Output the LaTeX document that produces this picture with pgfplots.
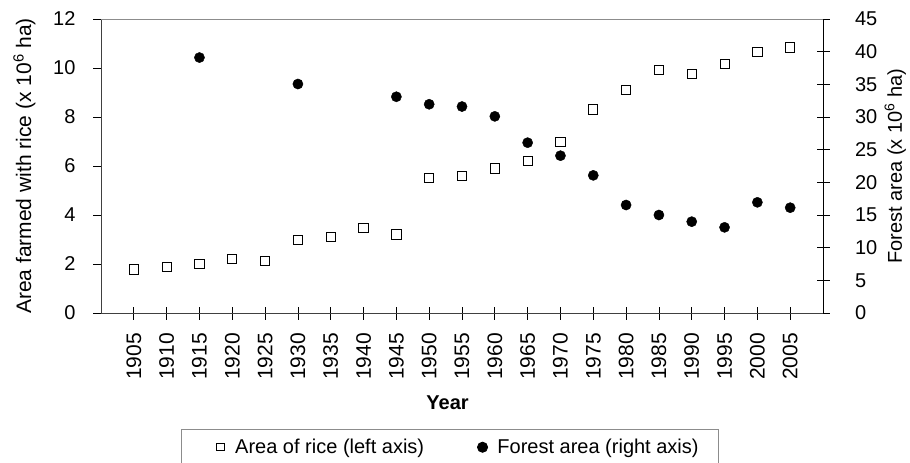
\documentclass[border=0pt]{standalone}
\usepackage{fontspec}
\setmainfont{Liberation Sans}
\usepackage{pgfplots}
\pgfplotsset{compat=1.18}
\pgfplotstableread{
year rice
1905 1.78
1910 1.89
1915 2.00
1920 2.19
1925 2.12
1930 2.98
1935 3.09
1940 3.48
1945 3.21
1950 5.51
1955 5.60
1960 5.90
1965 6.19
1970 6.99
1975 8.31
1980 9.10
1985 9.92
1990 9.76
1995 10.15
2000 10.67
2005 10.84
}\ricetable
\pgfplotstableread{
year forest
1915 39.10
1930 35.05
1945 33.10
1950 31.95
1955 31.60
1960 30.10
1965 26.07
1970 24.08
1975 21.07
1980 16.53
1985 15.00
1990 13.98
1995 13.11
2000 16.94
2005 16.12
}\foresttable
\begin{document}
\begin{tikzpicture}
\useasboundingbox (-101pt,-150pt) rectangle (809pt,313pt);
\pgfplotsset{
  common/.style={
    at={(0pt,0pt)}, anchor=south west,
    scale only axis, width=722pt, height=294pt,
    xmin=1900, xmax=2010,
    /pgf/number format/assume math mode=true,
    /pgf/number format/1000 sep={},
    tick style={black, line width=0.8pt},
    axis line style={line width=0.8pt},
    ticklabel style={font=\fontsize{20}{24}\selectfont},
  }
}
\begin{axis}[common, name=L,
  ymin=0, ymax=12, ytick={0,2,...,12},
  axis y line*=left, axis x line=none,
  y axis line style={draw=black!75},
  major tick length=8pt,
  ytick align=outside,
  yticklabel style={xshift=-14pt},
  ylabel={Area farmed with rice (x 10\textsuperscript{6} ha)},
  ylabel style={font=\fontsize{21}{24}\selectfont, at={(axis description cs:-0.106,0.5)}, anchor=center},
]
\addplot[only marks, mark=square*, mark size=4.6pt, mark options={fill=white, draw=black, line width=0.9pt}] table[x=year,y=rice]{\ricetable};
\end{axis}
\begin{axis}[common,
  ymin=0, ymax=45, ytick={0,5,...,45},
  xtick={1905,1910,...,2005},
  axis y line*=right, axis x line*=bottom,
  x axis line style={draw=black!75},
  major tick length=13pt,
  tick align=center,
  yticklabel style={xshift=22pt},
  xticklabel style={rotate=90, anchor=east, font=\fontsize{21}{24}\selectfont},
  xticklabel shift=10pt,
  xlabel={\textbf{Year}},
  xlabel style={font=\fontsize{20}{24}\selectfont, at={(axis description cs:0.48,-0.306)}, anchor=center},
  ylabel={Forest area (x 10\textsuperscript{6} ha)},
  ylabel style={font=\fontsize{20}{24}\selectfont, at={(axis description cs:1.1,0.5)}, anchor=center, rotate=0},
  legend style={at={(axis description cs:0.4834,-0.394)}, anchor=north, legend columns=2,
    draw=black!45, line width=0.8pt, font=\fontsize{20}{24}\selectfont,
    inner xsep=18pt, inner ysep=8pt,
    /tikz/every even column/.append style={column sep=35.5pt}},
  legend image code/.code={\draw[#1] plot coordinates {(0pt,0pt)}; \path (-20.5pt,0pt) (12.5pt,0pt);},
]
\addlegendimage{only marks, mark=square*, mark size=3.7pt, mark options={fill=white, draw=black, line width=0.9pt}}
\addlegendentry{Area of rice (left axis)}
\addplot[only marks, mark=*, mark size=5.1pt, mark options={fill=black, draw=black}] table[x=year,y=forest]{\foresttable};
\addlegendentry{Forest area (right axis)}
\end{axis}
\draw[black!45, line width=0.8pt] (L.north west) -- (L.north east);
\end{tikzpicture}
\end{document}
